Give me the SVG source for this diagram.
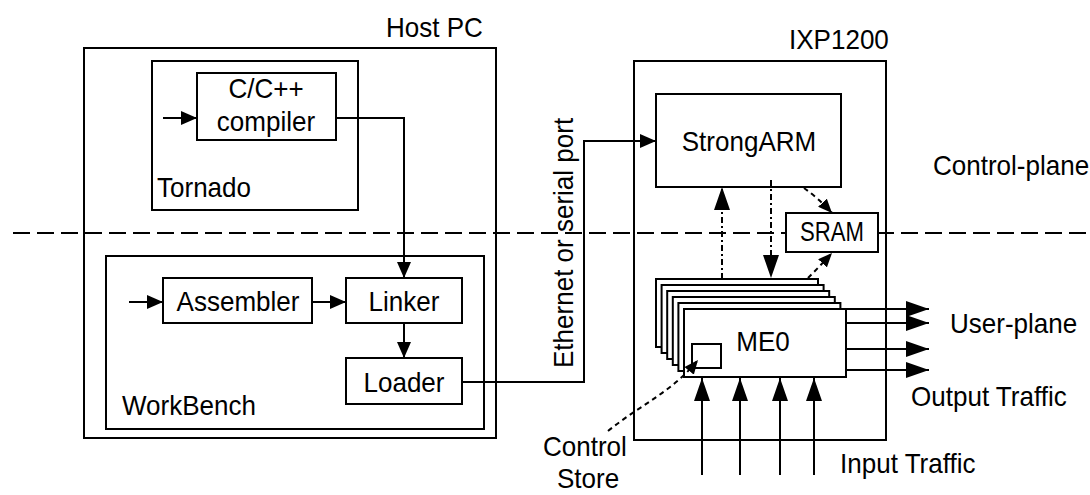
<svg xmlns="http://www.w3.org/2000/svg" width="1090" height="495" viewBox="0 0 1090 495">
<defs>
<style>
.box{fill:none;stroke:#000;stroke-width:2}
.wbox{fill:#fff;stroke:#000;stroke-width:2}
.ln{fill:none;stroke:#000;stroke-width:2}
.dot{fill:none;stroke:#000;stroke-width:2;stroke-dasharray:6 3 2 3}
.dsh{fill:none;stroke:#000;stroke-width:2;stroke-dasharray:5 4}
.sep{fill:none;stroke:#000;stroke-width:2;stroke-dasharray:17 7}
text{font-family:"Liberation Sans",Arial,Helvetica,sans-serif;font-size:28px;fill:#000}
.mid{text-anchor:middle}
</style>
<marker id="sm" viewBox="0 0 16 14" refX="16" refY="7" markerWidth="16" markerHeight="14" markerUnits="userSpaceOnUse" orient="auto"><path d="M0,0L16,7L0,14z" fill="#000"/></marker>
<marker id="bg" viewBox="0 0 23 16" refX="23" refY="8" markerWidth="23" markerHeight="16" markerUnits="userSpaceOnUse" orient="auto"><path d="M0,0L23,8L0,16z" fill="#000"/></marker>
<marker id="ds" viewBox="0 0 14 12" refX="14" refY="6" markerWidth="14" markerHeight="12" markerUnits="userSpaceOnUse" orient="auto"><path d="M0,0L14,6L0,12z" fill="#000"/></marker>
</defs>

<line class="sep" x1="13" y1="233" x2="1090" y2="233"/>

<g id="hostpc">
<rect class="box" x="84" y="48" width="412" height="390"/>
<text transform="matrix(0.93 0 0 1 386 37)">Host PC</text>
</g>
<g id="tornado">
<rect class="box" x="152" y="61" width="206" height="149"/>
<text transform="matrix(0.93 0 0 1 157 197)">Tornado</text>
</g>
<g id="compiler">
<rect class="wbox" x="197" y="73" width="139" height="67"/>
<text class="mid" transform="matrix(0.93 0 0 1 266 98)">C/C++</text>
<text class="mid" transform="matrix(0.93 0 0 1 266 131)">compiler</text>
</g>
<g id="workbench">
<rect class="box" x="106" y="256" width="378" height="173"/>
<text transform="matrix(0.93 0 0 1 122 415)">WorkBench</text>
</g>
<g id="assembler">
<rect class="wbox" x="163" y="278" width="149" height="45"/>
<text class="mid" transform="matrix(0.93 0 0 1 238 311)">Assembler</text>
</g>
<g id="linker">
<rect class="wbox" x="346" y="278" width="116" height="45"/>
<text class="mid" transform="matrix(0.93 0 0 1 404 311)">Linker</text>
</g>
<g id="loader">
<rect class="wbox" x="346" y="358" width="116" height="46"/>
<text class="mid" transform="matrix(0.93 0 0 1 404 392)">Loader</text>
</g>

<g id="ixp1200">
<rect class="box" x="634" y="61" width="252" height="379"/>
<text transform="matrix(0.93 0 0 1 789 49)">IXP1200</text>
</g>
<g id="strongarm">
<rect class="wbox" x="656" y="94" width="185" height="93"/>
<text class="mid" transform="matrix(0.93 0 0 1 749 151)">StrongARM</text>
</g>
<g id="sram">
<rect class="wbox" x="786" y="213" width="92" height="39"/>
<text class="mid" transform="matrix(0.82 0 0 1 832 241)" style="font-size:27px">SRAM</text>
</g>
<g id="me">
<rect class="wbox" x="656" y="279" width="162" height="68"/>
<rect class="wbox" x="661.6" y="285" width="162" height="68"/>
<rect class="wbox" x="667.2" y="291" width="162" height="68"/>
<rect class="wbox" x="672.8" y="297" width="162" height="68"/>
<rect class="wbox" x="678.4" y="303" width="162" height="68"/>
<rect class="wbox" x="684" y="309" width="162" height="68"/>
<text class="mid" transform="matrix(0.93 0 0 1 763 351)">ME0</text>
</g>
<g id="controlstore">
<rect class="wbox" x="692" y="344" width="29" height="24"/>
<text transform="matrix(0.93 0 0 1 543 456)">Control</text>
<text transform="matrix(0.93 0 0 1 557 488)">Store</text>
</g>

<g id="labels">
<text transform="matrix(0.93 0 0 1 933 175)">Control-plane</text>
<text transform="matrix(0.93 0 0 1 950 333)">User-plane</text>
<text transform="matrix(0.93 0 0 1 911 406)">Output Traffic</text>
<text transform="matrix(0.93 0 0 1 840 473)">Input Traffic</text>
<text transform="translate(573,368) rotate(-90) scale(0.93,1)">Ethernet or serial port</text>
</g>

<g id="connectors">
<path class="ln" d="M163,118H197" marker-end="url(#sm)"/>
<path class="ln" d="M336,118H404V278" marker-end="url(#sm)"/>
<path class="ln" d="M129,302H163" marker-end="url(#sm)"/>
<path class="ln" d="M312,302H346" marker-end="url(#sm)"/>
<path class="ln" d="M404,323V358" marker-end="url(#sm)"/>
<path class="ln" d="M462,382H584V141H656" marker-end="url(#sm)"/>
<path class="dot" d="M722,279V187" marker-end="url(#bg)"/>
<path class="dot" d="M771,180V278" marker-end="url(#bg)"/>
<path class="dsh" d="M804,188Q818,198 832,213" marker-end="url(#ds)"/>
<path class="dsh" d="M808,278Q820,266 832,253" marker-end="url(#ds)"/>
<path class="dsh" d="M608,431C640,405 672,392 698,360" marker-end="url(#ds)"/>
<path class="ln" d="M846,309H929" marker-end="url(#bg)"/>
<path class="ln" d="M846,323H929" marker-end="url(#bg)"/>
<path class="ln" d="M846,349H929" marker-end="url(#bg)"/>
<path class="ln" d="M846,370H929" marker-end="url(#bg)"/>
<path class="ln" d="M702,475V378" marker-end="url(#bg)"/>
<path class="ln" d="M740,475V378" marker-end="url(#bg)"/>
<path class="ln" d="M780,475V378" marker-end="url(#bg)"/>
<path class="ln" d="M814,475V378" marker-end="url(#bg)"/>
</g>
</svg>
